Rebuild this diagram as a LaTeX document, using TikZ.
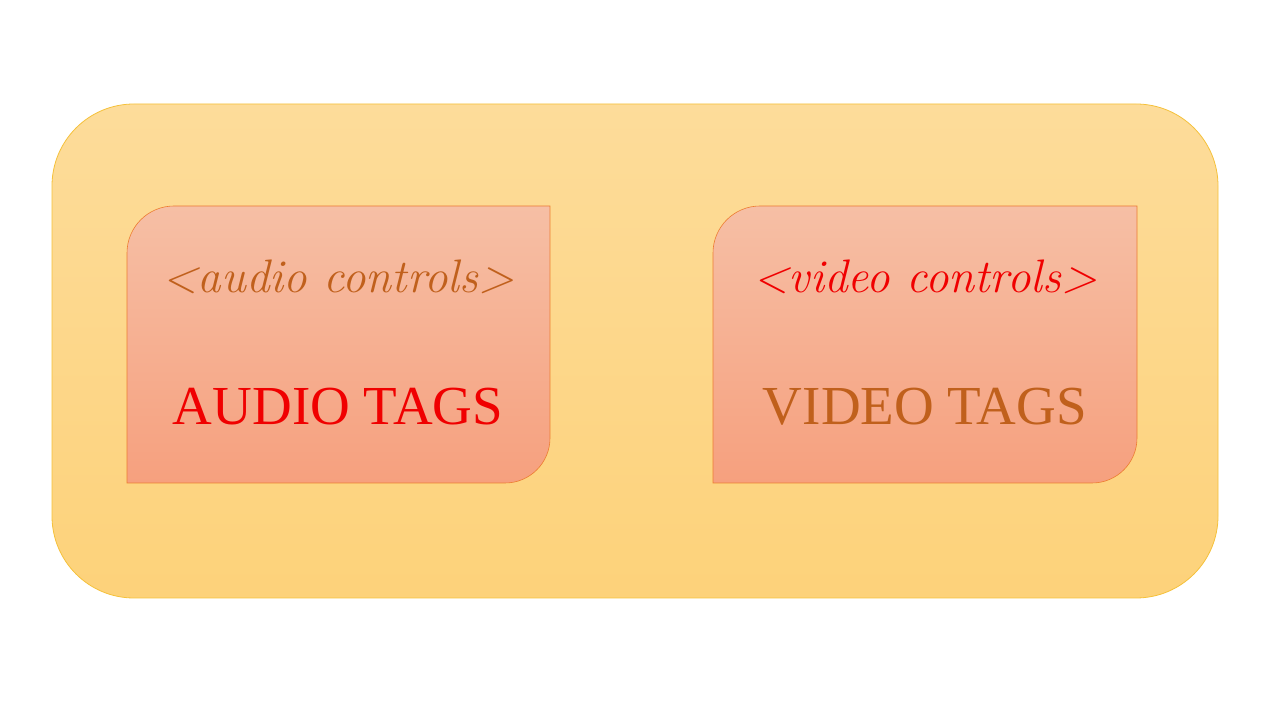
\documentclass[tikz,border=0pt]{standalone}
\usepackage{fontspec}
\setmainfont{Liberation Serif}
\newfontfamily\handfont{Latin Modern Roman}
\definecolor{outtop}{HTML}{FDDC9A}
\definecolor{outbot}{HTML}{FDD27A}
\definecolor{outline}{HTML}{F5C13A}
\definecolor{intop}{HTML}{F6BFA5}
\definecolor{inbot}{HTML}{F6A07E}
\definecolor{inline}{HTML}{ED7D31}
\definecolor{brownish}{HTML}{C0601C}
\definecolor{redtxt}{HTML}{F00000}
\begin{document}
\begin{tikzpicture}[x=1pt,y=1pt,
  outerbox/.style={top color=outtop,bottom color=outbot,draw=outline,line width=0.8pt},
  innerbox/.style={top color=intop,bottom color=inbot,draw=inline,line width=0.6pt},
  hand/.style={font=\handfont\itshape\fontsize{47}{47}\selectfont},
  caps/.style={font=\fontsize{55}{55}\selectfont}]
\useasboundingbox (0,0) rectangle (1280,720);
\path[outerbox,rounded corners=82pt] (52,122) rectangle (1218,616);
% left inner box
\path[innerbox] (127,237) -- (127,467) arc[start angle=180,end angle=90,radius=47]
  -- (550,514) -- (550,282) arc[start angle=0,end angle=-90,radius=45] -- cycle;
% right inner box
\path[innerbox] (713,237) -- (713,467) arc[start angle=180,end angle=90,radius=47]
  -- (1137,514) -- (1137,282) arc[start angle=0,end angle=-90,radius=45] -- cycle;
\node[hand,text=brownish] (ac) at (338,443) {<audio controls>};
\node[caps,text=redtxt] (at) at (338,313) {AUDIO TAGS};
\node[hand,text=redtxt] (vc) at (925,443) {<video controls>};
\node[caps,text=brownish] (vt) at (925,313) {VIDEO TAGS};
\end{tikzpicture}
\end{document}
